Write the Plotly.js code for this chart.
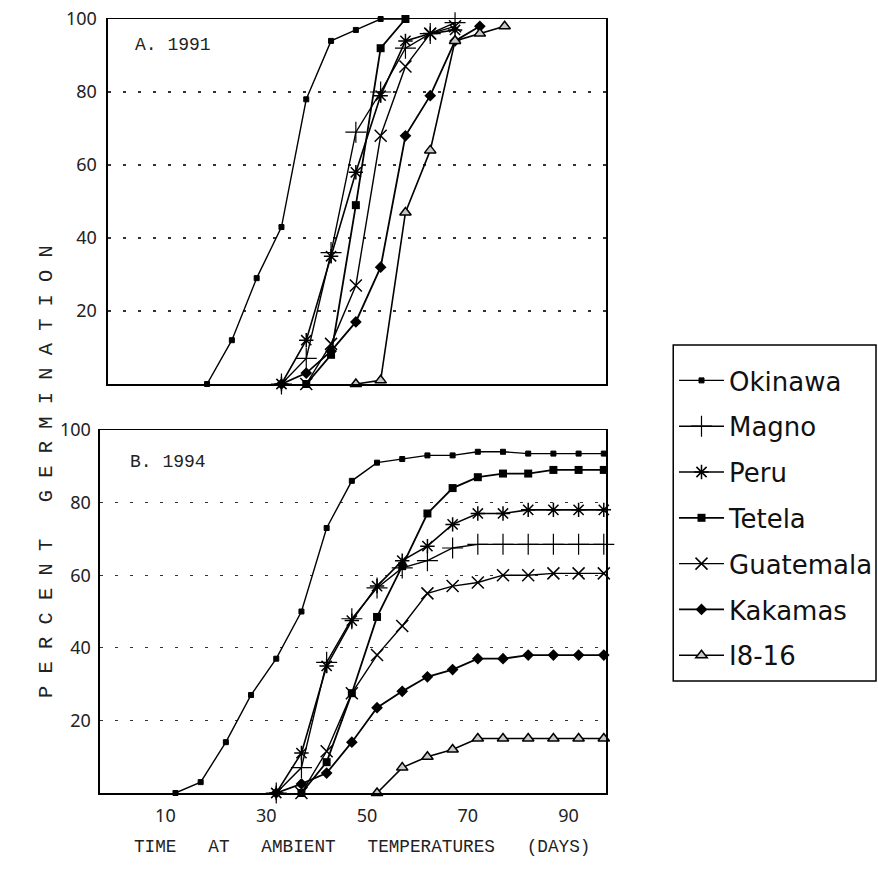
<!DOCTYPE html>
<html>
<head>
<meta charset="utf-8">
<script src="https://cdn.plot.ly/plotly-3.0.1.min.js"></script>
<style>html,body{margin:0;padding:0;background:#fff;}</style>
</head>
<body>
<div id="chart" style="width:878px;height:874px;"></div>
<script>
// ---------- DATA ----------
const seriesNames = ["Okinawa", "Magno", "Peru", "Tetela", "Guatemala", "Kakamas", "I8-16"];
const xTickVals = [10, 30, 50, 70, 90];
const yTickVals = [20, 40, 60, 80, 100];

// Panel A. 1991
const okinawa91Days = [17, 22, 27, 32, 37, 42, 47, 52, 57];
const okinawa91 = [0, 12, 29, 43, 78, 94, 97, 100, 100];
const magno91Days = [32, 37, 42, 47, 52, 57, 62, 67];
const magno91 = [0, 7, 36, 69, 80, 92, 96, 99];
const peru91Days = [32, 37, 42, 47, 52, 57, 62, 67];
const peru91 = [0, 12, 35, 58, 79, 94, 96, 97];
const tetela91Days = [37, 42, 47, 52, 57];
const tetela91 = [0, 8, 49, 92, 100];
const guatemala91Days = [37, 42, 47, 52, 57, 62, 67];
const guatemala91 = [0, 11, 27, 68, 87, 96, 98];
const kakamas91Days = [32, 37, 42, 47, 52, 57, 62, 67, 72];
const kakamas91 = [0, 3, 9, 17, 32, 68, 79, 94, 98];
const i81691Days = [47, 52, 57, 62, 67, 72, 77];
const i81691 = [0, 1, 47, 64, 94, 96, 98];

// Panel B. 1994
const okinawa94Days = [12, 17, 22, 27, 32, 37, 42, 47, 52, 57, 62, 67, 72, 77, 82, 87, 92, 97];
const okinawa94 = [0, 3, 14, 27, 37, 50, 73, 86, 91, 92, 93, 93, 94, 94, 93.5, 93.5, 93.5, 93.5];
const magno94Days = [32, 37, 42, 47, 52, 57, 62, 67, 72, 77, 82, 87, 92, 97];
const magno94 = [0, 7, 36, 48, 56.5, 62, 64, 67.5, 68.5, 68.5, 68.5, 68.5, 68.5, 68.5];
const peru94Days = [32, 37, 42, 47, 52, 57, 62, 67, 72, 77, 82, 87, 92, 97];
const peru94 = [0, 11, 35, 47.5, 57, 64, 68, 74, 77, 77, 78, 78, 78, 78];
const tetela94Days = [37, 42, 47, 52, 57, 62, 67, 72, 77, 82, 87, 92, 97];
const tetela94 = [0, 8.5, 27.5, 48.5, 62.5, 77, 84, 87, 88, 88, 89, 89, 89];
const guatemala94Days = [37, 42, 47, 52, 57, 62, 67, 72, 77, 82, 87, 92, 97];
const guatemala94 = [0, 11.5, 27.5, 38, 46, 55, 57, 58, 60, 60, 60.5, 60.5, 60.5];
const kakamas94Days = [32, 37, 42, 47, 52, 57, 62, 67, 72, 77, 82, 87, 92, 97];
const kakamas94 = [0, 2.5, 5.5, 14, 23.5, 28, 32, 34, 37, 37, 38, 38, 38, 38];
const i81694Days = [52, 57, 62, 67, 72, 77, 82, 87, 92, 97];
const i81694 = [0, 7, 10, 12, 15, 15, 15, 15, 15, 15];

// ---------- STYLES ----------
const markerStyles = {
  "Okinawa":   {symbol: "square", size: 5, color: "black", line: {color: "black", width: 1}},
  "Magno":     {symbol: "cross-thin-open", size: 15, color: "black", line: {color: "black", width: 1.2}},
  "Peru":      {symbol: "asterisk-open", size: 12, color: "black", line: {color: "black", width: 1.5}},
  "Tetela":    {symbol: "square", size: 8, color: "black", line: {color: "black", width: 0}},
  "Guatemala": {symbol: "x-thin-open", size: 12, color: "black", line: {color: "black", width: 1.5}},
  "Kakamas":   {symbol: "diamond", size: 9, color: "black", line: {color: "black", width: 0}},
  "I8-16":     {symbol: "triangle-up", size: 10, color: "#c8c8c8", line: {color: "black", width: 1.5}}
};
const lineWidths = {"Okinawa": 1.4, "Magno": 1.4, "Peru": 1.6, "Tetela": 1.8, "Guatemala": 1.4, "Kakamas": 1.8, "I8-16": 1.6};

const panelA = {
  "Okinawa": [okinawa91Days, okinawa91], "Magno": [magno91Days, magno91], "Peru": [peru91Days, peru91],
  "Tetela": [tetela91Days, tetela91], "Guatemala": [guatemala91Days, guatemala91],
  "Kakamas": [kakamas91Days, kakamas91], "I8-16": [i81691Days, i81691]
};
const panelB = {
  "Okinawa": [okinawa94Days, okinawa94], "Magno": [magno94Days, magno94], "Peru": [peru94Days, peru94],
  "Tetela": [tetela94Days, tetela94], "Guatemala": [guatemala94Days, guatemala94],
  "Kakamas": [kakamas94Days, kakamas94], "I8-16": [i81694Days, i81694]
};

const traces = [];
seriesNames.forEach(name => {
  traces.push({
    type: "scatter", mode: "lines+markers", name: name, legendgroup: name, showlegend: false,
    x: panelA[name][0], y: panelA[name][1], xaxis: "x", yaxis: "y",
    line: {color: "black", width: lineWidths[name]}, marker: markerStyles[name], cliponaxis: false
  });
});
seriesNames.forEach(name => {
  traces.push({
    type: "scatter", mode: "lines+markers", name: name, legendgroup: name, showlegend: true,
    x: panelB[name][0], y: panelB[name][1], xaxis: "x2", yaxis: "y2",
    line: {color: "black", width: lineWidths[name]}, marker: markerStyles[name], cliponaxis: false
  });
});

const W = 878, H = 874;
const px = v => v / W;
const py = v => (H - v) / H;

const tickFont = {family: "Noto Sans", size: 18, color: "#222"};
const gridCommon = {showgrid: true, gridcolor: "#333", griddash: "3px,12px", gridwidth: 1.3};

const baseAxis = {showline: true, mirror: true, linecolor: "black", linewidth: 1.5, zeroline: false, ticks: "", fixedrange: true};

const nb = "\u00A0";
const spaced = s => s.split("").join(nb);
const yTitle = spaced("PERCENT") + nb.repeat(3) + spaced("GERMINATION");
const xTitle = ["TIME", "AT", "AMBIENT", "TEMPERATURES", "(DAYS)"].join(nb.repeat(3));

const layout = {
  width: W, height: H,
  margin: {l: 0, r: 0, t: 0, b: 0},
  paper_bgcolor: "white", plot_bgcolor: "white",
  showlegend: true,
  xaxis: Object.assign({}, baseAxis, {domain: [px(108), px(607)], range: [-3, 97.5], showticklabels: false, showgrid: false, anchor: "y"}),
  yaxis: Object.assign({}, baseAxis, gridCommon, {domain: [py(384), py(19)], range: [0, 100], tickvals: yTickVals, tickfont: tickFont, ticklabelstandoff: 6, anchor: "x"}),
  xaxis2: Object.assign({}, baseAxis, {domain: [px(100), px(607)], range: [-3, 97.5], tickvals: xTickVals, tickfont: tickFont, showgrid: false, ticklabelstandoff: 6, anchor: "y2"}),
  yaxis2: Object.assign({}, baseAxis, gridCommon, {domain: [py(793), py(430)], range: [0, 100], tickvals: yTickVals, tickfont: tickFont, ticklabelstandoff: 4, anchor: "x2"}),
  legend: {
    x: px(675), y: py(357), xanchor: "left", yanchor: "top",
    borderwidth: 0, bgcolor: "rgba(0,0,0,0)",
    font: {family: "DejaVu Sans", size: 26, color: "#111"},
    tracegroupgap: 9, itemwidth: 45, traceorder: "grouped"
  },
  shapes: [
    {type: "rect", xref: "paper", yref: "paper", x0: px(674), x1: px(877), y0: py(681), y1: py(345), line: {color: "black", width: 1.5}, fillcolor: "rgba(0,0,0,0)"}
  ],
  annotations: [
    {xref: "paper", yref: "paper", x: px(133), y: py(45), xanchor: "left", yanchor: "middle", showarrow: false, text: "A. 1991", font: {family: "Liberation Mono", size: 18, color: "#222"}},
    {xref: "paper", yref: "paper", x: px(128), y: py(462), xanchor: "left", yanchor: "middle", showarrow: false, text: "B. 1994", font: {family: "Liberation Mono", size: 18, color: "#222"}},
    {xref: "paper", yref: "paper", x: px(46), y: py(471), xanchor: "center", yanchor: "middle", showarrow: false, textangle: -90, text: yTitle, font: {family: "Liberation Mono", size: 20.4, color: "#222"}},
    {xref: "paper", yref: "paper", x: px(362), y: py(847), xanchor: "center", yanchor: "middle", showarrow: false, text: xTitle, font: {family: "Liberation Mono", size: 17.7, color: "#222"}}
  ]
};

Plotly.newPlot("chart", traces, layout, {displayModeBar: false, staticPlot: true});
</script>
</body>
</html>
